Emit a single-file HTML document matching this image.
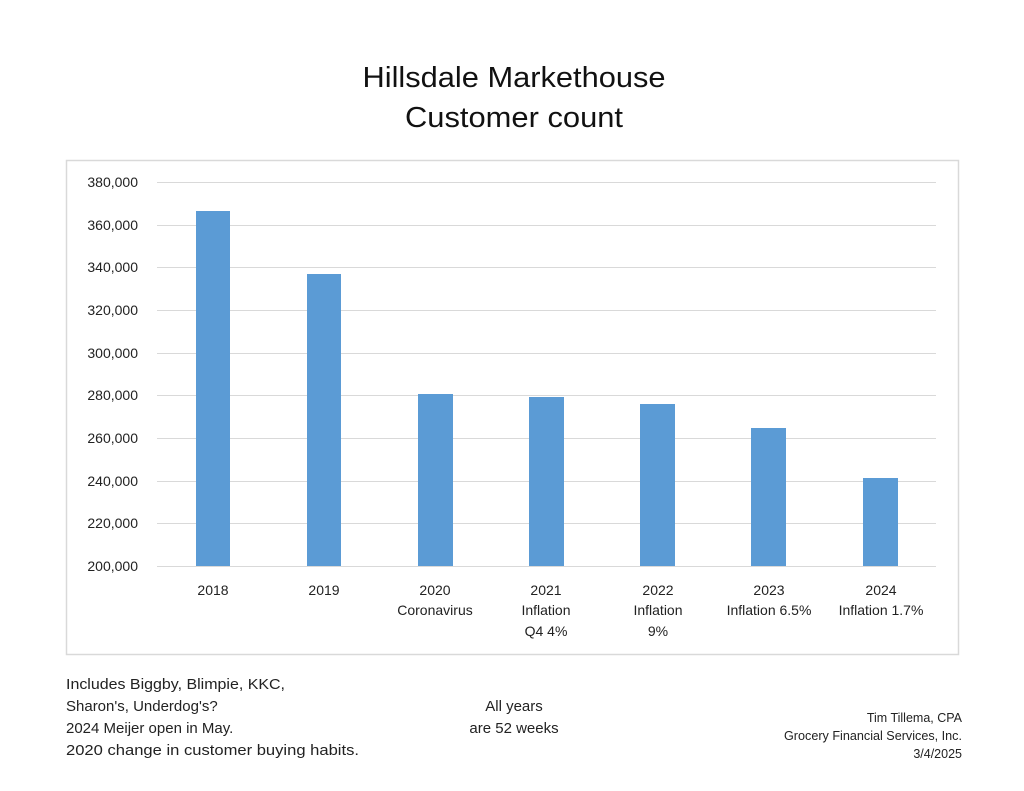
<!DOCTYPE html>
<html><head><meta charset="utf-8"><style>
html,body{margin:0;padding:0;background:#fff;}
svg{display:block;font-family:"Liberation Sans",sans-serif;}
</style></head><body>
<svg width="1024" height="791" viewBox="0 0 1024 791" xmlns="http://www.w3.org/2000/svg">
<rect width="1024" height="791" fill="#fff"/>
<text x="514" y="87" font-size="29" text-anchor="middle" textLength="303" lengthAdjust="spacingAndGlyphs" fill="#111">Hillsdale Markethouse</text>
<text x="514" y="127" font-size="29" text-anchor="middle" textLength="218" lengthAdjust="spacingAndGlyphs" fill="#111">Customer count</text>
<rect x="66.5" y="160.5" width="892" height="494" fill="none" stroke="#d9d9d9" stroke-width="1.5"/>
<g stroke="#d9d9d9" stroke-width="1">
<line x1="157" x2="936" y1="182.5" y2="182.5"/>
<line x1="157" x2="936" y1="225.5" y2="225.5"/>
<line x1="157" x2="936" y1="267.5" y2="267.5"/>
<line x1="157" x2="936" y1="310.5" y2="310.5"/>
<line x1="157" x2="936" y1="353.5" y2="353.5"/>
<line x1="157" x2="936" y1="395.5" y2="395.5"/>
<line x1="157" x2="936" y1="438.5" y2="438.5"/>
<line x1="157" x2="936" y1="481.5" y2="481.5"/>
<line x1="157" x2="936" y1="523.5" y2="523.5"/>
<line x1="157" x2="936" y1="566.5" y2="566.5"/>
</g>
<g font-size="14" text-anchor="end" fill="#222">
<text x="138" y="187">380,000</text>
<text x="138" y="230">360,000</text>
<text x="138" y="272">340,000</text>
<text x="138" y="315">320,000</text>
<text x="138" y="358">300,000</text>
<text x="138" y="400">280,000</text>
<text x="138" y="443">260,000</text>
<text x="138" y="486">240,000</text>
<text x="138" y="528">220,000</text>
<text x="138" y="571">200,000</text>
</g>
<g fill="#5b9bd5">
<rect x="196" y="211" width="34" height="355"/>
<rect x="307" y="274" width="34" height="292"/>
<rect x="418" y="394" width="35" height="172"/>
<rect x="529" y="397" width="35" height="169"/>
<rect x="640" y="404" width="35" height="162"/>
<rect x="751" y="428" width="35" height="138"/>
<rect x="863" y="478" width="35" height="88"/>
</g>
<g font-size="14" text-anchor="middle" fill="#222">
<text x="213" y="595">2018</text>
<text x="324" y="595">2019</text>
<text x="435" y="595">2020</text>
<text x="435" y="615">Coronavirus</text>
<text x="546" y="595">2021</text>
<text x="546" y="615">Inflation</text>
<text x="546" y="636">Q4 4%</text>
<text x="658" y="595">2022</text>
<text x="658" y="615">Inflation</text>
<text x="658" y="636">9%</text>
<text x="769" y="595">2023</text>
<text x="769" y="615">Inflation 6.5%</text>
<text x="881" y="595">2024</text>
<text x="881" y="615">Inflation 1.7%</text>
</g>
<g font-size="15" fill="#222">
<text x="66" y="689" textLength="219" lengthAdjust="spacingAndGlyphs">Includes Biggby, Blimpie, KKC,</text>
<text x="66" y="711">Sharon's, Underdog's?</text>
<text x="66" y="733">2024 Meijer open in May.</text>
<text x="66" y="755" textLength="293" lengthAdjust="spacingAndGlyphs">2020 change in customer buying habits.</text>
</g>
<g font-size="15" text-anchor="middle" fill="#222">
<text x="514" y="711">All years</text>
<text x="514" y="733">are 52 weeks</text>
</g>
<g font-size="12.5" text-anchor="end" fill="#222">
<text x="962" y="722">Tim Tillema, CPA</text>
<text x="962" y="740" textLength="178" lengthAdjust="spacingAndGlyphs">Grocery Financial Services, Inc.</text>
<text x="962" y="758">3/4/2025</text>
</g>
</svg>
</body></html>
